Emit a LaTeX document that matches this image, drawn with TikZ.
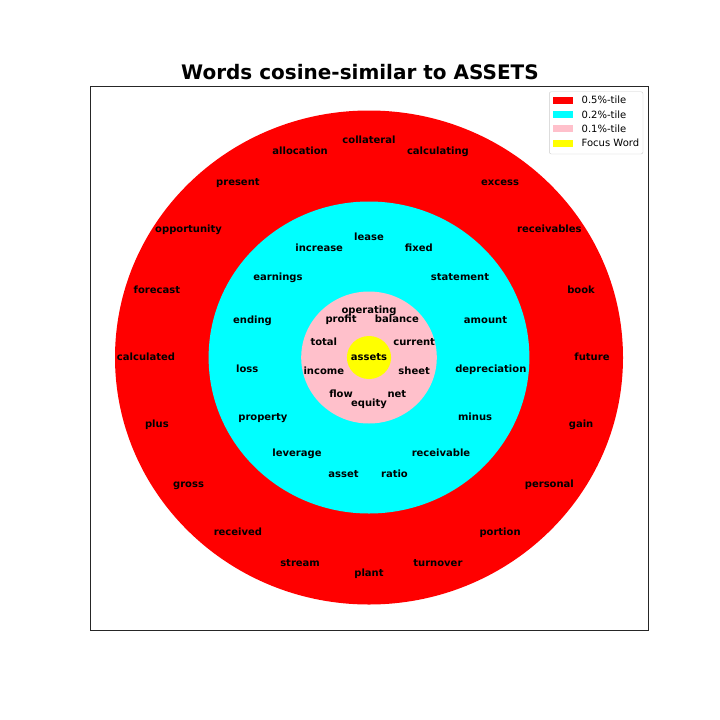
\documentclass[tikz,border=0pt]{standalone}
\usepackage{fontspec}
\setmainfont{DejaVu Sans}
\usetikzlibrary{positioning}
\usepackage{xcolor}
\definecolor{ringred}{RGB}{255,0,0}
\definecolor{ringcyan}{RGB}{0,255,255}
\definecolor{ringpink}{RGB}{255,192,203}
\definecolor{focusyellow}{RGB}{255,255,0}

\begin{document}
\begin{tikzpicture}[x=1pt, y=-1pt,
    ring/.style={fill=#1},
    word/.style={font=\fontsize{10}{10}\selectfont\bfseries, inner sep=0pt,
                 text height=0.76em, text depth=0.21em},
    key/.style={fill=#1, minimum width=20pt, minimum height=7pt, inner sep=0pt},
    keytext/.style={font=\fontsize{10}{10}\selectfont, anchor=west, inner sep=0pt}]
  \useasboundingbox (0,0) rectangle (720,720);
  \fill[white] (0,0) rectangle (720,720);

  %% Title
  \node[font=\fontsize{20}{20}\selectfont\bfseries, anchor=base, inner sep=0pt]
    (title) at (360,79.5) {Words cosine-similar to ASSETS};

  %% Axes frame
  \draw[line width=0.8pt, black!85] (90,86.5) rectangle (648,630);

  %% Rings (outer to inner)
  \fill[ring=ringred]     (369,357.5) ellipse [x radius=254pt, y radius=247pt];
  \fill[ring=ringcyan]    (369,357.5) ellipse [x radius=160.4pt, y radius=156pt];
  \fill[ring=ringpink]    (369,357.5) ellipse [x radius=67.8pt, y radius=66pt];
  \fill[ring=focusyellow] (369,357.5) ellipse [x radius=22.1pt, y radius=21.5pt];

  %% 0.5%-tile words
  \foreach \w [count=\i from 0] in {future,book,receivables,excess,calculating,
      collateral,allocation,present,opportunity,forecast,calculated,plus,gross,
      received,stream,plant,turnover,portion,personal,gain}
    \node[word] (r-\w) at ({369+223*cos(18*\i)},{357.5-216.5*sin(18*\i)}) {\w};

  %% 0.2%-tile words
  \foreach \w [count=\i from 0] in {lease,increase,earnings,ending,loss,property,
      leverage,asset,ratio,receivable,minus,depreciation,amount,statement,fixed}
    \node[word] (c-\w) at ({369+122.5*cos(90+24*\i)},{357.5-119.5*sin(90+24*\i)}) {\w};

  %% 0.1%-tile words
  \foreach \w [count=\i from 0] in {operating,profit,total,income,flow,equity,
      net,sheet,current,balance}
    \node[word] (p-\w) at ({369+47.5*cos(90+36*\i)},{357.5-46.5*sin(90+36*\i)}) {\w};

  %% Focus word
  \node[word] (focus) at (369,357.5) {assets};

  %% Legend
  \draw[black!20, fill=white, rounded corners=2pt] (549.3,91.7) rectangle (643,154);
  \node[key=ringred]     (k-red)    at (563.3,100)   {};
  \node[key=ringcyan]    (k-cyan)   at (563.3,114.4) {};
  \node[key=ringpink]    (k-pink)   at (563.3,128.8) {};
  \node[key=focusyellow] (k-yellow) at (563.3,143.2) {};
  \node[keytext] (t-red)    at (581.5,100)   {0.5\%-tile};
  \node[keytext] (t-cyan)   at (581.5,114.4) {0.2\%-tile};
  \node[keytext] (t-pink)   at (581.5,128.8) {0.1\%-tile};
  \node[keytext] (t-yellow) at (581.5,143.2) {Focus Word};
\end{tikzpicture}
\end{document}
